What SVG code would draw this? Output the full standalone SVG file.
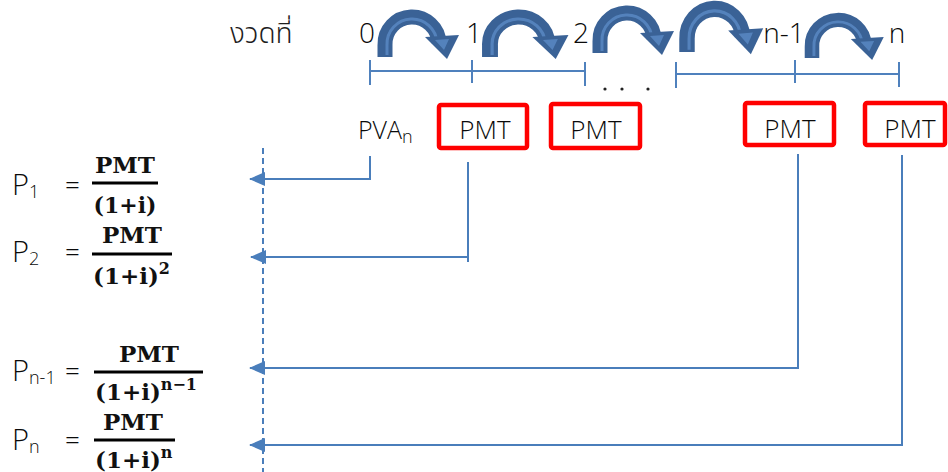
<svg xmlns="http://www.w3.org/2000/svg" width="948" height="472" viewBox="0 0 948 472">
  <style>
    .lbl { font-family: "Open Sans", "Liberation Sans", sans-serif; font-weight: 300; fill: #0a0a0a; }
    .thai { font-family: "Noto Sans Thai", "Leelawadee UI", "Tahoma", "DejaVu Sans", sans-serif; font-weight: 300; fill: #1e1e1e; }
    .math { font-family: "DejaVu Serif", "Liberation Serif", serif; font-weight: bold; fill: #111; }
    .tl { stroke: #4f81bd; stroke-width: 2; fill: none; }
    .box { fill: none; stroke: #ff0000; stroke-width: 4.5; }
    .con { stroke: #4a7ebb; stroke-width: 2; fill: none; }
    .bar { stroke: #000; stroke-width: 3; }
  </style>
  <defs>
    <marker id="ah" markerUnits="userSpaceOnUse" markerWidth="16" markerHeight="14" refX="15" refY="7" orient="auto">
      <path d="M0,0 L16,7 L0,14 z" fill="#4a7ebb"/>
    </marker>
    <!-- curved step arrow, origin at the left foot -->
    <g id="hop">
      <path d="M0 0 L0 -12 A27 27 0 0 1 54 -14" fill="none" stroke="#3a6296" stroke-width="15"/>
      <path d="M2 -2 L2 -12 A25 25 0 0 1 52 -14" fill="none" stroke="#5b8bc6" stroke-width="3" opacity="0.8"/>
      <polygon points="40,-20 74,-22 62,2" fill="#3a6296"/>
      <polygon points="50,-17 64,-18 59,-7" fill="#5b8bc6" opacity="0.8"/>
    </g>
  </defs>

  <!-- header -->
  <g id="header">
    <text class="thai" x="230" y="43" font-size="28">งวดที่</text>
    <text class="lbl" x="367" y="43" font-size="28" text-anchor="middle">0</text>
    <text class="lbl" x="474" y="43" font-size="28" text-anchor="middle">1</text>
    <text class="lbl" x="581" y="43" font-size="28" text-anchor="middle">2</text>
    <text class="lbl" x="784" y="43" font-size="28" text-anchor="middle">n-1</text>
    <text class="lbl" x="897" y="43" font-size="28" text-anchor="middle">n</text>
  </g>

  <!-- step arrows -->
  <g id="hops">
    <use href="#hop" transform="translate(385,57)"/>
    <use href="#hop" transform="translate(490,57) scale(1.06,1)"/>
    <use href="#hop" transform="translate(600,53)"/>
    <use href="#hop" transform="translate(687,52) scale(1.03,1.08)"/>
    <use href="#hop" transform="translate(812,58) scale(0.97,0.95)"/>
  </g>

  <!-- timeline -->
  <g id="timeline">
    <path class="tl" d="M370 71 H585 M370 60 V85 M472 60 V83 M585 62 V86"/>
    <path class="tl" d="M676 74 H899 M676 62 V88 M795 60 V83 M899 62 V87"/>
    <circle cx="605" cy="89" r="1.6" fill="#222"/>
    <circle cx="622" cy="89" r="1.6" fill="#222"/>
    <circle cx="648" cy="89" r="1.6" fill="#222"/>
  </g>

  <!-- payment row -->
  <g id="pva">
    <text class="lbl" x="358" y="139" font-size="25">PVA<tspan font-size="18" dy="4">n</tspan></text>
  </g>
  <g id="pmt1">
    <rect class="box" x="439" y="105" width="88" height="43" rx="2"/>
    <text class="lbl" x="485" y="139" font-size="26" text-anchor="middle">PMT</text>
  </g>
  <g id="pmt2">
    <rect class="box" x="551" y="104" width="89" height="44" rx="2"/>
    <text class="lbl" x="596" y="139" font-size="26" text-anchor="middle">PMT</text>
  </g>
  <g id="pmt3">
    <rect class="box" x="745" y="103" width="89" height="42" rx="2"/>
    <text class="lbl" x="790" y="138" font-size="26" text-anchor="middle">PMT</text>
  </g>
  <g id="pmt4">
    <rect class="box" x="865" y="103" width="80" height="42" rx="2"/>
    <text class="lbl" x="910" y="138" font-size="26" text-anchor="middle">PMT</text>
  </g>

  <!-- discounting connectors -->
  <g id="connectors">
    <line x1="263" y1="148" x2="263" y2="472" stroke="#4a7ebb" stroke-width="2" stroke-dasharray="6 4"/>
    <path class="con" d="M370 156 V179 H250" marker-end="url(#ah)"/>
    <path class="con" d="M468 162 V262 M468 257 H251" marker-end="url(#ah)"/>
    <path class="con" d="M798 154 V368 H250" marker-end="url(#ah)"/>
    <path class="con" d="M902 155 V445 H250" marker-end="url(#ah)"/>
  </g>

  <!-- present values -->
  <g id="p1">
    <text class="lbl" x="12" y="195" font-size="29">P<tspan font-size="18" dy="3">1</tspan></text>
    <text class="lbl" x="65" y="194" font-size="26">=</text>
    <text class="math" x="125" y="173" font-size="23" text-anchor="middle" textLength="60" lengthAdjust="spacingAndGlyphs">PMT</text>
    <line class="bar" x1="92" y1="183" x2="158" y2="183"/>
    <text class="math" x="125" y="213" font-size="23" text-anchor="middle" textLength="63" lengthAdjust="spacingAndGlyphs">(1+i)</text>
  </g>
  <g id="p2">
    <text class="lbl" x="12" y="262" font-size="29">P<tspan font-size="18" dy="3">2</tspan></text>
    <text class="lbl" x="65" y="261" font-size="26">=</text>
    <text class="math" x="132" y="243" font-size="23" text-anchor="middle" textLength="60" lengthAdjust="spacingAndGlyphs">PMT</text>
    <line class="bar" x1="92" y1="254" x2="172" y2="254"/>
    <text class="math" x="93" y="284" font-size="23">(1+i)<tspan font-size="16" dy="-10">2</tspan></text>
  </g>
  <g id="pn1">
    <text class="lbl" x="12" y="381" font-size="29">P<tspan font-size="18" dy="3">n-1</tspan></text>
    <text class="lbl" x="65" y="380" font-size="26">=</text>
    <text class="math" x="149" y="362" font-size="23" text-anchor="middle" textLength="60" lengthAdjust="spacingAndGlyphs">PMT</text>
    <line class="bar" x1="94" y1="372" x2="203" y2="372"/>
    <text class="math" x="95" y="400" font-size="23">(1+i)<tspan font-size="16" dy="-10">n−1</tspan></text>
  </g>
  <g id="pn">
    <text class="lbl" x="12" y="450" font-size="29">P<tspan font-size="18" dy="3">n</tspan></text>
    <text class="lbl" x="65" y="449" font-size="26">=</text>
    <text class="math" x="133" y="430" font-size="23" text-anchor="middle" textLength="60" lengthAdjust="spacingAndGlyphs">PMT</text>
    <line class="bar" x1="94" y1="440" x2="175" y2="440"/>
    <text class="math" x="95" y="468" font-size="23">(1+i)<tspan font-size="16" dy="-10">n</tspan></text>
  </g>
</svg>
